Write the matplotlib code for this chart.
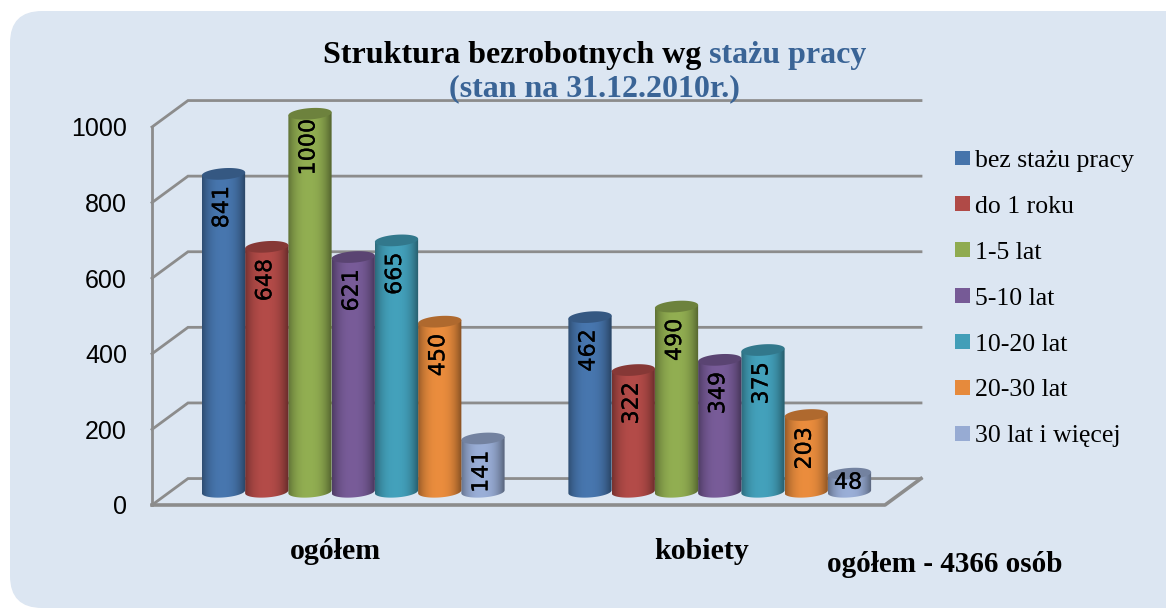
import matplotlib
matplotlib.use("Agg")
import matplotlib.pyplot as plt
import matplotlib.patheffects as pe
import numpy as np
from matplotlib.patches import FancyBboxPatch, Patch, Polygon

categories = ["ogółem", "kobiety"]
series_names = ["bez stażu pracy", "do 1 roku", "1-5 lat", "5-10 lat",
                "10-20 lat", "20-30 lat", "30 lat i więcej"]
ogolem = [841, 648, 1000, 621, 665, 450, 141]
kobiety = [462, 322, 490, 349, 375, 203, 48]
colors = ["#4674AB", "#B04A47", "#8FAB50", "#765A96", "#429EB8", "#E68A3C", "#97ABD3"]
y_ticks = [0, 200, 400, 600, 800, 1000]

W, H = 1166, 608
GRID = "#8C8C8C"
SERIF = "Liberation Serif"

# depth of the fake 3d box, in data units
DX = 36 / 366.5
DY = 70
BAR_W = 0.118
ELL_H = 15
TILT = 4


def shade(color, f):
    c = np.array(matplotlib.colors.to_rgb(color))
    return tuple(c * f)


def draw_cylinder(ax, xc, value, color, z):
    base = DY / 2
    top = value + DY / 2
    t = np.linspace(0, np.pi, 40)
    xs = xc + BAR_W / 2 * np.cos(t)
    # top rim then bottom rim make the body outline
    upper = top + TILT * np.cos(t)
    lower = base + TILT * np.cos(t) - ELL_H * np.sin(t)
    body = np.column_stack([np.r_[xs, xs[::-1]], np.r_[upper, lower[::-1]]])
    clip = Polygon(body, closed=True, transform=ax.transData, fc="none", ec="none", clip_on=False)
    ax.add_patch(clip)

    # left and right edges darker than the middle
    u = np.linspace(-1, 1, 64)
    f = 0.62 + 0.40 * np.clip(1 - np.abs(u + 0.05) ** 2.5, 0, 1)
    grad = np.array([shade(color, v) for v in f]).reshape(1, -1, 3)
    im = ax.imshow(np.clip(grad, 0, 1), extent=[xc - BAR_W / 2, xc + BAR_W / 2, lower.min(), top + 20],
                   aspect="auto", zorder=z, interpolation="bilinear")
    # images stop at the axes box unless told otherwise, the tallest bar pokes out
    im.set_clip_box(ax.figure.bbox)
    im.set_clip_path(clip)

    # top lid
    t2 = np.linspace(0, 2 * np.pi, 80)
    lid = np.column_stack([xc + BAR_W / 2 * np.cos(t2),
                           top + TILT * np.cos(t2) + ELL_H * np.sin(t2)])
    ax.add_patch(Polygon(lid, closed=True, fc=shade(color, 0.76), ec="none", zorder=z + 0.1,
                         clip_on=False))


fig = plt.figure(figsize=(W / 100, H / 100), dpi=100, facecolor="white")

# rounded panel behind everything
bg = fig.add_axes([0, 0, 1, 1], zorder=0)
bg.set_xlim(0, W)
bg.set_ylim(H, 0)
bg.axis("off")
bg.add_patch(FancyBboxPatch((30, 31), W + 60, H - 51, boxstyle="round,pad=20,rounding_size=32",
                            fc="#DCE6F2", ec="none"))

ax = fig.add_axes([152 / W, (H - 505) / H, 733 / W, 378 / H], zorder=1)
ax.patch.set_visible(False)
for s in ax.spines.values():
    s.set_visible(False)

# back wall and floor
for v in y_ticks:
    ax.plot([-0.5, -0.5 + DX, 1.5 + DX], [v, v + DY, v + DY], color=GRID, lw=2,
            solid_joinstyle="miter", clip_on=False, zorder=1)
ax.plot([-0.5, 1.5, 1.5 + DX], [0, 0, DY], color=GRID, lw=2.6, clip_on=False, zorder=1.5)
ax.plot([-0.5, -0.5], [0, 1000], color=GRID, lw=2, clip_on=False, zorder=1.5)

# bars, right to left so the left one sits on top
n = len(series_names)
for g, vals in enumerate([ogolem, kobiety]):
    for i in range(n - 1, -1, -1):
        xc = g + (i - (n - 1) / 2) * BAR_W + DX / 2
        draw_cylinder(ax, xc, vals[i], colors[i], 3 + (n - i) * 0.2)
        v = vals[i]
        ly = v - 88 if v > 88 else v / 2
        # the smallest bar has no room for a rotated label
        ax.text(xc - 0.004, ly + DY / 2, str(v), rotation=90 if v > 88 else 0, ha="center", va="center",
                fontsize=16, color="black", family="DejaVu Sans", zorder=6,
                path_effects=[pe.withStroke(linewidth=0.2, foreground="black")])

ax.set_xlim(-0.5, 1.5)
ax.set_ylim(0, 1000)
ax.set_xticks([0, 1])
ax.set_xticklabels(categories, family=SERIF, fontweight="bold", fontsize=21.5)
ax.set_yticks(y_ticks)
ax.set_yticklabels([str(v) for v in y_ticks], family="Liberation Sans", fontsize=18)
ax.tick_params(axis="both", length=0)
ax.tick_params(axis="x", pad=24)
ax.tick_params(axis="y", pad=18)

# title, two colours on the first line
t1 = fig.text(323 / W, 1 - 55 / H, "Struktura bezrobotnych wg ", family=SERIF, fontweight="bold",
              fontsize=23, color="black", va="center", ha="left")
t2 = ax.annotate("stażu pracy", xy=(1, 0), xycoords=t1, va="bottom", ha="left", family=SERIF,
                 fontweight="bold", fontsize=23, color="#3A6496", annotation_clip=False)
fig.text(594 / W, 1 - 89 / H, "(stan na 31.12.2010r.)", family=SERIF, fontweight="bold",
         fontsize=23, color="#3A6496", va="center", ha="center")

fig.text(827 / W, 1 - 565 / H, "ogółem - 4366 osób", family=SERIF, fontweight="bold",
         fontsize=21, color="black", va="center", ha="left")

handles = [Patch(fc=c, ec="none") for c in colors]
leg = fig.legend(handles, series_names, loc="upper left", bbox_to_anchor=(955 / W, 1 - 150 / H),
                 frameon=False, prop={"family": SERIF, "size": 18.5}, labelspacing=0.93,
                 handlelength=0.58, handleheight=0.5, handletextpad=0.2, borderpad=0,
                 borderaxespad=0)

fig.savefig("out.png", dpi=100, facecolor="white")
